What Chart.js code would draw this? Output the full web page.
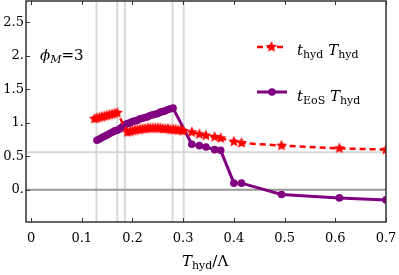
<!DOCTYPE html>
<html><head><meta charset="utf-8">
<script src="https://cdn.jsdelivr.net/npm/chart.js@4/dist/chart.umd.min.js"></script>
<style>html,body{margin:0;padding:0;background:#fff;}#wrap{width:399px;height:275px;}</style>
</head><body><div id="wrap"><canvas id="c" width="399" height="275"></canvas></div>
<script>
// ---- data ----
const redX = [0.125,0.13,0.135,0.14,0.145,0.15,0.155,0.16,0.165,0.17,
  0.19,0.195,0.20,0.205,0.21,0.215,0.22,0.225,0.23,0.235,0.24,0.245,0.25,0.255,0.26,0.265,0.27,0.275,0.28,0.285,0.29,0.295,0.30,
  0.317,0.332,0.345,0.362,0.374,0.40,0.415,0.494,0.608,0.70];
const redY = [1.06,1.07,1.08,1.09,1.10,1.11,1.12,1.13,1.14,1.15,
  0.86,0.87,0.88,0.89,0.90,0.90,0.91,0.91,0.92,0.92,0.92,0.92,0.92,0.92,0.91,0.91,0.91,0.90,0.90,0.90,0.89,0.89,0.88,
  0.86,0.83,0.81,0.79,0.77,0.72,0.70,0.66,0.62,0.60];
const purpleX = [0.13,0.135,0.14,0.145,0.15,0.155,0.16,0.165,0.17,0.175,0.18,0.185,0.19,0.195,0.20,0.205,0.21,0.215,0.22,0.225,0.23,0.235,0.24,0.245,0.25,0.255,0.26,0.265,0.27,0.275,0.28,
  0.317,0.332,0.345,0.362,0.374,0.40,0.415,0.494,0.608,0.70];
const purpleY = [0.74,0.76,0.78,0.80,0.82,0.84,0.86,0.88,0.89,0.91,0.94,0.97,0.99,1.00,1.02,1.03,1.04,1.06,1.07,1.08,1.09,1.11,1.12,1.13,1.14,1.16,1.17,1.18,1.20,1.21,1.22,
  0.68,0.66,0.64,0.60,0.59,0.10,0.10,-0.07,-0.12,-0.15];
const xTicks = [0,0.1,0.2,0.3,0.4,0.5,0.6,0.7];
const xTickLabels = ["0","0.1","0.2","0.3","0.4","0.5","0.6","0.7"];
const yTicks = [0,0.5,1,1.5,2,2.5];
const yTickLabels = ["0.","0.5","1.","1.5","2.","2.5"];
const vLines = [0.129,0.170,0.185,0.279,0.301];
const hLineLight = 0.56;
const hLineZero = 0;

const RED = '#ff0000', PURPLE = '#800080';
const SERIF = '"DejaVu Serif", "Liberation Serif", serif';

function makeStar(r){
  const s = Math.ceil(r*2+2), c = document.createElement('canvas');
  c.width = s; c.height = s;
  const g = c.getContext('2d');
  g.fillStyle = RED; g.beginPath();
  for(let i=0;i<10;i++){
    const a = -Math.PI/2 + i*Math.PI/5, rr = i%2===0 ? r : r*0.45;
    const px = s/2 + rr*Math.cos(a), py = s/2 + rr*Math.sin(a);
    i===0 ? g.moveTo(px,py) : g.lineTo(px,py);
  }
  g.closePath(); g.fill();
  return c;
}
const star = makeStar(6);

function subText(ctx, parts, x, y){
  let cx = x;
  for(const [t,it,sub] of parts){
    const size = sub ? 11 : 15;
    ctx.font = (it?'italic ':'') + size + 'px ' + SERIF;
    ctx.fillText(t, cx, y + (sub?4:0));
    cx += ctx.measureText(t).width;
  }
}

const deco = {
  id:'deco',
  beforeDatasetsDraw(chart){
    const {ctx, chartArea:a, scales:{x,y}} = chart;
    ctx.save();
    ctx.strokeStyle = '#d9d9d9'; ctx.lineWidth = 2;
    for(const v of vLines){ const px = x.getPixelForValue(v); ctx.beginPath(); ctx.moveTo(px,a.top); ctx.lineTo(px,a.bottom); ctx.stroke(); }
    let py = y.getPixelForValue(hLineLight);
    ctx.beginPath(); ctx.moveTo(a.left,py); ctx.lineTo(a.right,py); ctx.stroke();
    ctx.strokeStyle = '#999999';
    py = y.getPixelForValue(hLineZero);
    ctx.beginPath(); ctx.moveTo(a.left,py); ctx.lineTo(a.right,py); ctx.stroke();
    ctx.restore();
  },
  afterDraw(chart){
    const {ctx, chartArea:a, scales:{x,y}} = chart;
    ctx.save();
    ctx.strokeStyle = '#333'; ctx.lineWidth = 1.5;
    ctx.strokeRect(a.left, a.top, a.right-a.left, a.bottom-a.top);
    ctx.lineWidth = 1;
    for(const v of xTicks){ const px = Math.round(x.getPixelForValue(v))+0.5;
      ctx.beginPath(); ctx.moveTo(px,a.bottom); ctx.lineTo(px,a.bottom-4); ctx.moveTo(px,a.top); ctx.lineTo(px,a.top+4); ctx.stroke(); }
    for(const v of yTicks){ const py = Math.round(y.getPixelForValue(v))+0.5;
      ctx.beginPath(); ctx.moveTo(a.left,py); ctx.lineTo(a.left+4,py); ctx.stroke(); }
    // legend
    ctx.fillStyle = '#000'; ctx.textBaseline = 'middle'; ctx.textAlign = 'left';
    const lx0 = 257, lx1 = 286;
    ctx.strokeStyle = RED; ctx.lineWidth = 2.5; ctx.setLineDash([6,4]);
    ctx.beginPath(); ctx.moveTo(lx0,47); ctx.lineTo(lx1,47); ctx.stroke();
    ctx.setLineDash([]);
    ctx.drawImage(star, 271.5-star.width/2, 47-star.width/2);
    ctx.strokeStyle = PURPLE; ctx.lineWidth = 3;
    ctx.beginPath(); ctx.moveTo(lx0,92); ctx.lineTo(lx1+1,92); ctx.stroke();
    ctx.fillStyle = PURPLE; ctx.beginPath(); ctx.arc(272,92,3.8,0,Math.PI*2); ctx.fill();
    ctx.fillStyle = '#000';
    subText(ctx, [['t',true,false],['hyd',false,true],[' ',false,false],['T',true,false],['hyd',false,true]], 297, 51);
    subText(ctx, [['t',true,false],['EoS',false,true],[' ',false,false],['T',true,false],['hyd',false,true]], 297, 97);
    subText(ctx, [['\u03D5',true,false],['M',true,true],['=3',false,false]], 40, 56);
    subText(ctx, [['T',true,false],['hyd',false,true],['/\u039B',false,false]], 182, 262);
    ctx.restore();
  }
};

new Chart(document.getElementById('c'), {
  type:'line',
  data:{ datasets:[
    { label:'t_hyd T_hyd', data: redX.map((v,i)=>({x:v,y:redY[i]})), borderColor:RED, backgroundColor:RED,
      borderWidth:2.5, borderDash:[6,4], pointStyle:star, pointRadius:6, tension:0 },
    { label:'t_EoS T_hyd', data: purpleX.map((v,i)=>({x:v,y:purpleY[i]})), borderColor:PURPLE, backgroundColor:PURPLE,
      borderWidth:3, pointStyle:'circle', pointRadius:3.8, pointBorderWidth:0, tension:0 }
  ]},
  options:{
    responsive:false, animation:false, devicePixelRatio:1,
    layout:{autoPadding:false, padding:{top:1,right:13,left:0,bottom:0}},
    plugins:{legend:{display:false}, tooltip:{enabled:false}},
    scales:{
      x:{ type:'linear', min:-0.01, max:0.7,
        afterBuildTicks(s){ s.ticks = xTicks.map(v=>({value:v})); },
        afterFit(s){ s.height = 53; s.paddingLeft = 0; s.paddingRight = 0; },
        grid:{display:false, drawTicks:false}, border:{display:false},
        ticks:{ padding:9, color:'#000', font:{family:SERIF,size:13}, maxRotation:0,
          callback:(v)=>{ const i = xTicks.indexOf(v); return i>=0 ? xTickLabels[i] : ''; } } },
      y:{ type:'linear', min:-0.48, max:2.82,
        afterBuildTicks(s){ s.ticks = yTicks.map(v=>({value:v})); },
        afterFit(s){ s.width = 26; s.paddingTop = 0; s.paddingBottom = 0; },
        grid:{display:false, drawTicks:false}, border:{display:false},
        ticks:{ padding:2, color:'#000', font:{family:SERIF,size:13},
          callback:(v)=>{ const i = yTicks.indexOf(v); return i>=0 ? yTickLabels[i] : ''; } } }
    }
  },
  plugins:[deco]
});
</script></body></html>
